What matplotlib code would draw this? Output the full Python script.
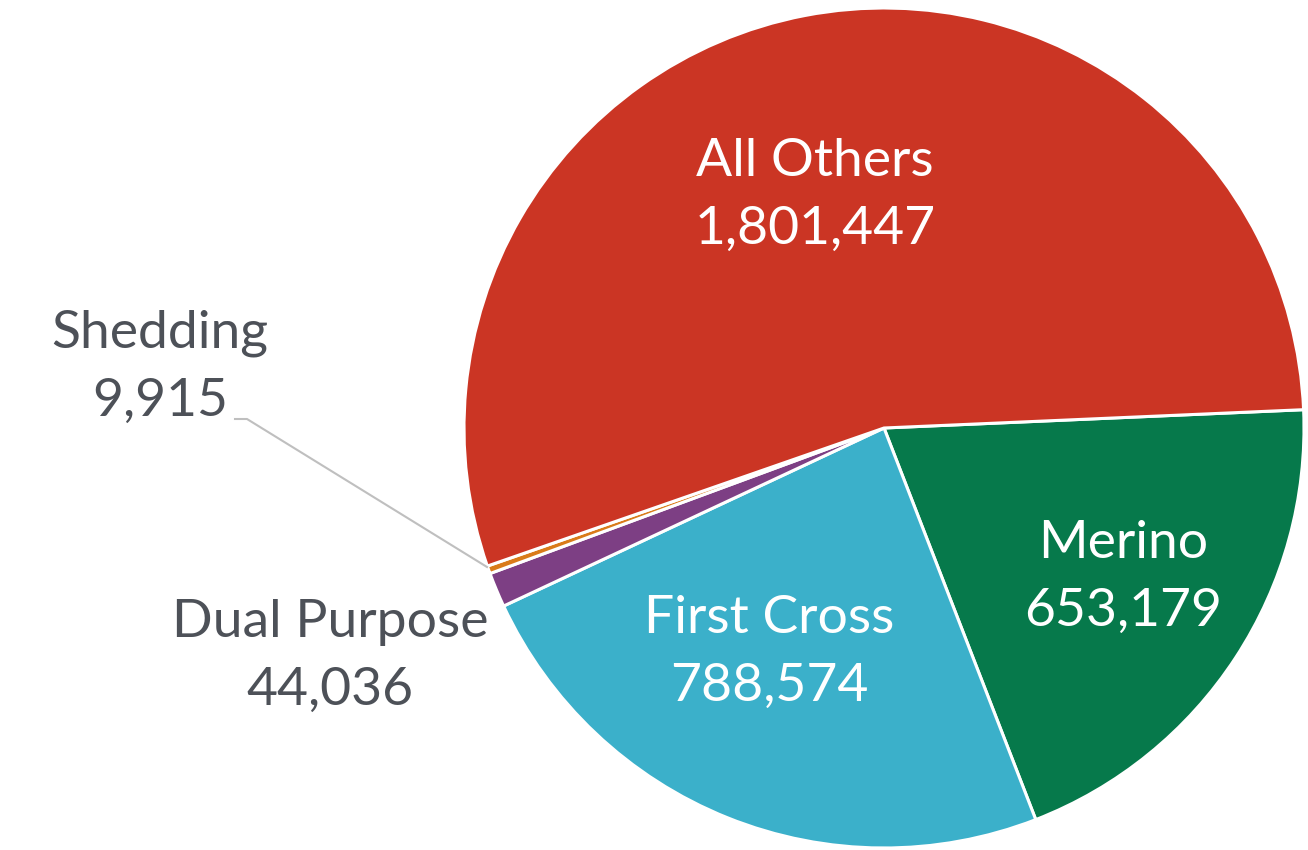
import matplotlib
matplotlib.use("Agg")
import matplotlib.pyplot as plt

labels = ["Merino", "First Cross", "Dual Purpose", "Shedding", "All Others"]
values = [653179, 788574, 44036, 9915, 1801447]
colors = ["#06794B", "#3BB0CA", "#7D3F84", "#D97B1A", "#CB3524"]

W, H = 1308, 850
cx, cy, R = 884, 428, 420

fig = plt.figure(figsize=(W / 100, H / 100), dpi=100)
ax = fig.add_axes([(cx - R) / W, (H - cy - R) / H, 2 * R / W, 2 * R / H])

ax.pie(values, colors=colors, startangle=2.5, counterclock=False, radius=1,
       wedgeprops=dict(edgecolor="white", linewidth=2.2))
ax.set_xlim(-1, 1)
ax.set_ylim(-1, 1)
ax.set_aspect("equal")
ax.axis("off")

def px(x, y):
    return (x - cx) / R, (cy - y) / R

font = "Lato"
# label positions in pixels (centre of two-line block)
pos = {
    "All Others": (815, 195, "white"),
    "Merino": (1123, 577, "white"),
    "First Cross": (769, 652, "white"),
    "Dual Purpose": (330, 656, "#4D5158"),
    "Shedding": (160, 367, "#4D5158"),
}
for lab, val in zip(labels, values):
    x, y, c = pos[lab]
    ax.text(*px(x, y), f"{lab}\n{val:,}", ha="center", va="center",
            fontsize=38.5, color=c, family=font, linespacing=1.55, clip_on=False)

# leader line for Shedding
xs = [235, 247, 487]
ys = [419, 419, 567]
pts = [px(a, b) for a, b in zip(xs, ys)]
ax.plot([p[0] for p in pts], [p[1] for p in pts], color="#BFBFBF", lw=1.5,
        clip_on=False)

fig.savefig("out.png", dpi=100, facecolor="white")
